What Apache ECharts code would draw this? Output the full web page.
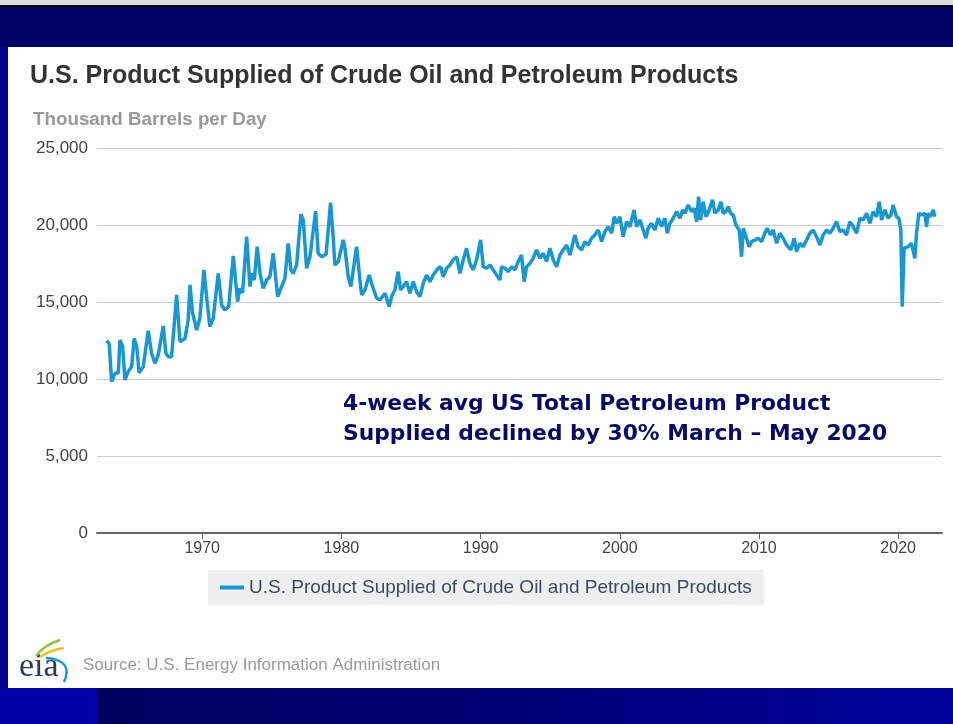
<!DOCTYPE html>
<html>
<head>
<meta charset="utf-8">
<title>U.S. Product Supplied of Crude Oil and Petroleum Products</title>
<script src="https://cdn.jsdelivr.net/npm/echarts@6/dist/echarts.min.js"></script>
<style>
  html, body { margin: 0; padding: 0; background: #000066; }
  #chart { width: 953px; height: 724px; }
</style>
</head>
<body>
<div id="chart"></div>
<script>
// decimal year -> thousand barrels per day
var years = [
  1963.13, 1963.32, 1963.49, 1963.73, 1963.97, 1964.09, 1964.28, 1964.45, 1964.68, 1964.93,
  1965.11, 1965.29, 1965.47, 1965.76, 1966.12, 1966.36, 1966.60, 1966.84, 1967.20, 1967.39,
  1967.56, 1967.80, 1968.16, 1968.40, 1968.76, 1968.99, 1969.12, 1969.31, 1969.60, 1969.83,
  1970.12, 1970.36, 1970.55, 1970.79, 1971.15, 1971.39, 1971.63, 1971.90, 1972.23, 1972.54,
  1972.71, 1972.90, 1973.19, 1973.43, 1973.55, 1973.74, 1973.95, 1974.15, 1974.38, 1974.63,
  1974.86, 1975.10, 1975.42, 1975.70, 1975.94, 1976.18, 1976.37, 1976.54, 1976.78, 1977.09,
  1977.26, 1977.50, 1977.74, 1978.15, 1978.33, 1978.58, 1978.90, 1979.22, 1979.41, 1979.53,
  1979.77, 1980.13, 1980.25, 1980.49, 1980.68, 1980.85, 1981.09, 1981.33, 1981.45, 1981.69,
  1982.00, 1982.24, 1982.41, 1982.53, 1982.77, 1983.13, 1983.43, 1983.61, 1983.84, 1984.08,
  1984.25, 1984.44, 1984.68, 1984.92, 1985.16, 1985.40, 1985.64, 1985.88, 1986.12, 1986.36,
  1986.59, 1986.95, 1987.13, 1987.31, 1987.56, 1987.79, 1988.03, 1988.28, 1988.51, 1988.75,
  1988.99, 1989.23, 1989.47, 1989.71, 1990.00, 1990.19, 1990.43, 1990.67, 1990.91, 1991.15,
  1991.39, 1991.51, 1991.75, 1991.98, 1992.23, 1992.46, 1992.70, 1992.94, 1993.13, 1993.30,
  1993.54, 1993.78, 1994.02, 1994.26, 1994.50, 1994.74, 1994.98, 1995.22, 1995.46, 1995.70,
  1995.93, 1996.18, 1996.42, 1996.77, 1997.01, 1997.26, 1997.49, 1997.73, 1997.97, 1998.21,
  1998.45, 1998.69, 1998.93, 1999.17, 1999.41, 1999.60, 1999.77, 2000.01, 2000.24, 2000.49,
  2000.72, 2001.03, 2001.21, 2001.44, 2001.68, 2001.88, 2002.04, 2002.28, 2002.52, 2002.76,
  2003.00, 2003.24, 2003.41, 2003.60, 2003.84, 2004.08, 2004.32, 2004.51, 2004.68, 2004.91,
  2005.16, 2005.34, 2005.52, 2005.66, 2005.80, 2005.99, 2006.19, 2006.42, 2006.67, 2006.83,
  2007.07, 2007.26, 2007.43, 2007.62, 2007.79, 2007.96, 2008.15, 2008.34, 2008.58, 2008.75,
  2008.87, 2009.06, 2009.30, 2009.47, 2009.71, 2009.94, 2010.19, 2010.42, 2010.59, 2010.83,
  2011.02, 2011.27, 2011.50, 2011.74, 2011.98, 2012.10, 2012.29, 2012.53, 2012.70, 2012.94,
  2013.18, 2013.42, 2013.66, 2013.89, 2014.14, 2014.38, 2014.61, 2014.86, 2015.09, 2015.33,
  2015.57, 2015.81, 2016.05, 2016.29, 2016.53, 2016.77, 2017.01, 2017.25, 2017.49, 2017.73,
  2017.97, 2018.20, 2018.45, 2018.64, 2018.81, 2019.04, 2019.28, 2019.48, 2019.64, 2019.88,
  2020.05, 2020.19, 2020.29, 2020.43, 2020.72, 2020.96, 2021.08, 2021.20, 2021.32, 2021.49,
  2021.68, 2021.92, 2022.04, 2022.16, 2022.33, 2022.52, 2022.64
]
var supplied = [
  12490, 12270, 9830, 10370, 10410, 12530, 12100, 9940, 10480, 10800,
  12640, 12100, 10410, 10800, 13140, 11670, 11020, 11560, 13440, 11670,
  11450, 11450, 15460, 12420, 12640, 13830, 16110, 14270, 13180, 13940,
  17080, 14920, 13400, 13940, 16860, 14810, 14480, 14700, 17990, 15020,
  15890, 15600, 19240, 16000, 16860, 16430, 18590, 16860, 15890, 16430,
  16640, 18160, 15350, 16000, 16540, 18810, 17080, 16860, 17400, 20700,
  20330, 17190, 17940, 20900, 18160, 17940, 18100, 21450, 19240, 17400,
  17620, 19030, 18490, 16640, 16000, 17080, 18590, 16430, 15460, 15780,
  16750, 16000, 15570, 15240, 15130, 15570, 14700, 15350, 15780, 16970,
  15780, 16000, 16320, 15570, 16320, 15670, 15350, 16220, 16750, 16320,
  16750, 17190, 17290, 16640, 17190, 17400, 17730, 17940, 16860, 17730,
  18490, 17510, 17080, 17730, 19030, 17290, 17190, 17400, 17080, 16750,
  16430, 17290, 17190, 16970, 17290, 17080, 17620, 18050, 16320, 17290,
  17510, 17840, 18380, 17840, 18160, 17620, 18490, 17730, 17290, 18050,
  18380, 18700, 18050, 19350, 18590, 18380, 18920, 18700, 19140, 19350,
  19680, 18920, 19570, 19890, 19460, 20540, 20110, 20540, 19240, 20220,
  19890, 20980, 19890, 20330, 19680, 19140, 19790, 20110, 19680, 20440,
  19890, 20440, 19460, 20110, 20440, 20870, 20440, 20980, 20760, 21300,
  20870, 21090, 20220, 21840, 20330, 21510, 20540, 20980, 21630, 20760,
  20980, 21510, 20760, 20870, 21190, 20760, 20650, 20000, 19680, 17940,
  19790, 19240, 18590, 18920, 19030, 19140, 18920, 19460, 19790, 19350,
  19680, 18810, 19460, 19140, 18700, 18590, 18380, 19140, 18270, 18810,
  18590, 19030, 19460, 19680, 19240, 18700, 19350, 19680, 19460, 19790,
  20220, 19570, 19680, 19350, 20220, 19890, 19460, 20440, 20330, 20760,
  20110, 20870, 20540, 21510, 20330, 20980, 20440, 20650, 21300, 20540,
  20440, 19680, 14700, 18490, 18590, 18810, 18920, 17840, 19460, 20760,
  20650, 20760, 19890, 20760, 20540, 20980, 20540
]
var yTicks = [0, 5000, 10000, 15000, 20000, 25000]
var xTicks = [1970, 1980, 1990, 2000, 2010, 2020]
var seriesName = 'U.S. Product Supplied of Crude Oil and Petroleum Products'

var lineData = years.map(function(y, i) {
  return [y, supplied[i]]
})

var chartDom = document.getElementById('chart')
var myChart = echarts.init(chartDom)

var option = {
  backgroundColor: '#000066',
  animation: false,
  textStyle: {
    fontFamily: 'Liberation Sans, Arial, sans-serif'
  },
  graphic: [
    // frame around the slide
    { type: 'rect', z: -10, shape: { x: 0, y: 0, width: 953, height: 5 }, style: { fill: '#d9d9d9' } },
    { type: 'rect', z: -10, shape: { x: 0, y: 5, width: 953, height: 2 }, style: { fill: '#000000' } },
    { type: 'rect', z: -10, shape: { x: 0, y: 47, width: 8, height: 641 }, style: { fill: '#00008c' } },
    { type: 'rect', z: -10, shape: { x: 8, y: 47, width: 945, height: 641 }, style: { fill: '#ffffff' } },
    {
      type: 'rect',
      z: -10,
      shape: { x: 98, y: 688, width: 855, height: 36 },
      style: {
        fill: new echarts.graphic.LinearGradient(0, 0, 1, 0, [
          { offset: 0, color: '#000060' },
          { offset: 0.4, color: '#000070' },
          { offset: 1, color: '#00009c' }
        ])
      }
    },
    { type: 'rect', z: -10, shape: { x: 0, y: 688, width: 98, height: 36 }, style: { fill: '#0000a8' } },
    // annotation
    {
      type: 'text',
      left: 343,
      top: 389,
      style: {
        text: '4-week avg US Total Petroleum Product\nSupplied declined by 30% March \u2013 May 2020',
        fill: '#07076e',
        font: 'bold 21.8px "DejaVu Sans", Verdana, sans-serif',
        lineHeight: 30
      }
    },
    // eia logo
    {
      type: 'text',
      left: 19,
      top: 650,
      style: {
        text: 'eia',
        fill: '#2e3a5c',
        font: '34px "Liberation Serif", "DejaVu Serif", serif'
      }
    },
    {
      type: 'bezierCurve',
      shape: { x1: 36, y1: 656, x2: 60, y2: 640, cpx1: 44, cpy1: 645 },
      style: { stroke: '#8cc63f', lineWidth: 2.5, fill: null }
    },
    {
      type: 'bezierCurve',
      shape: { x1: 40, y1: 657, x2: 64, y2: 648, cpx1: 50, cpy1: 650 },
      style: { stroke: '#f2c21b', lineWidth: 2.5, fill: null }
    },
    {
      type: 'bezierCurve',
      shape: { x1: 46, y1: 658, x2: 64, y2: 682, cpx1: 74, cpy1: 660 },
      style: { stroke: '#1798d5', lineWidth: 2.5, fill: null }
    },
    {
      type: 'text',
      left: 83,
      top: 657,
      style: {
        text: 'Source: U.S. Energy Information Administration',
        fill: '#9a9a9a',
        font: '17px "Liberation Sans", Arial, sans-serif'
      }
    }
  ],
  title: [
    {
      text: 'U.S. Product Supplied of Crude Oil and Petroleum Products',
      left: 30,
      top: 64,
      padding: 0,
      textStyle: {
        color: '#333333',
        fontSize: 25,
        fontWeight: 'bold',
        fontFamily: 'Liberation Sans, Arial, sans-serif'
      }
    },
    {
      text: 'Thousand Barrels per Day',
      left: 33,
      top: 110,
      padding: 0,
      textStyle: {
        color: '#999999',
        fontSize: 18.8,
        fontWeight: 'bold',
        fontFamily: 'Liberation Sans, Arial, sans-serif'
      }
    }
  ],
  legend: {
    left: 208,
    top: 570,
    padding: [8, 12, 8, 12],
    backgroundColor: '#eeeeee',
    itemWidth: 24,
    itemHeight: 4,
    itemGap: 8,
    data: [{ name: seriesName, icon: 'rect' }],
    textStyle: {
      color: '#3b4a60',
      fontSize: 19,
      fontFamily: 'Liberation Sans, Arial, sans-serif'
    }
  },
  grid: {
    left: 97,
    right: 11,
    top: 148,
    bottom: 191,
    containLabel: false
  },
  xAxis: {
    type: 'value',
    min: 1962.44,
    max: 2023.15,
    splitLine: { show: false },
    axisLine: { lineStyle: { color: '#666666', width: 2 } },
    axisTick: {
      show: true,
      customValues: xTicks,
      length: 6,
      lineStyle: { color: '#666666', width: 1 }
    },
    axisLabel: {
      customValues: xTicks,
      margin: 8,
      color: '#444444',
      fontSize: 16,
      formatter: function(v) {
        return String(v)
      }
    }
  },
  yAxis: {
    type: 'value',
    min: 0,
    max: 25000,
    interval: 5000,
    axisLine: { show: false },
    axisTick: { show: false },
    splitLine: { lineStyle: { color: '#cccccc', width: 1 } },
    axisLabel: {
      customValues: yTicks,
      margin: 9,
      color: '#444444',
      fontSize: 17,
      formatter: function(v) {
        return v.toLocaleString('en-US')
      }
    }
  },
  series: [
    {
      name: seriesName,
      type: 'line',
      data: lineData,
      showSymbol: false,
      color: '#1798d5',
      lineStyle: { width: 3.5, color: '#1798d5' }
    }
  ]
}

option && myChart.setOption(option)
</script>
</body>
</html>
